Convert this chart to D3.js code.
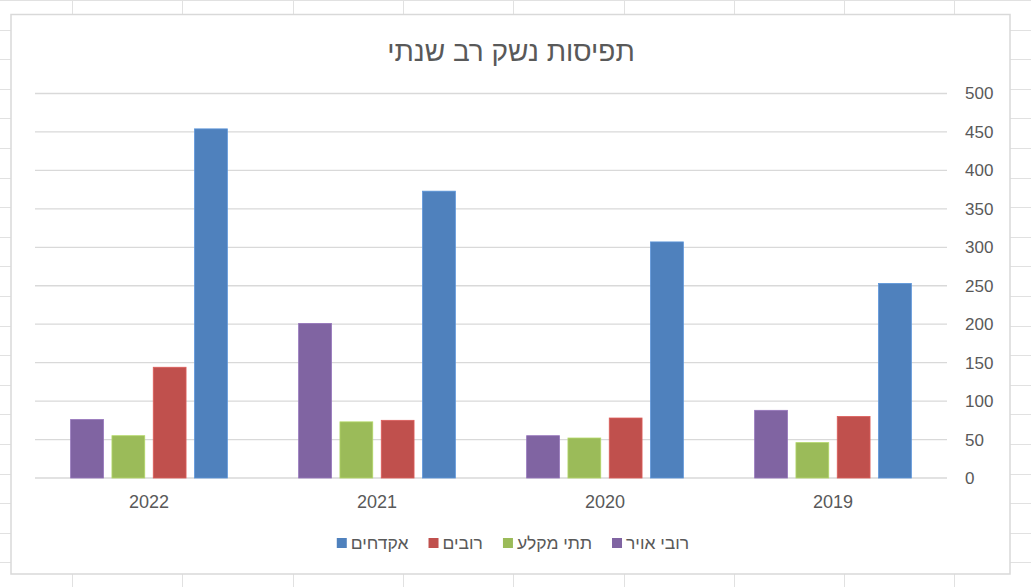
<!DOCTYPE html>
<html>
<head>
<meta charset="utf-8">
<script src="https://cdn.jsdelivr.net/npm/d3@7"></script>
<style>
  html, body { margin: 0; padding: 0; background: #ffffff; }
  svg { display: block; }
  .lbl { font-family: "Liberation Sans", Arial, sans-serif; fill: #595959; }
</style>
</head>
<body>
<div id="chart"></div>
<script>
// data
var years = ["2019", "2020", "2021", "2022"];
var seriesNames = ["אקדחים", "רובים", "תתי מקלע", "רובי אויר"];
var pistols = [253, 307, 373, 454];
var rifles = [80, 78, 75, 144];
var submachineGuns = [46, 52, 73, 55];
var airRifles = [88, 55, 201, 76];
var seriesColors = ["#4F81BD", "#C0504D", "#9BBB59", "#8064A2"];
var yTicks = [0, 50, 100, 150, 200, 250, 300, 350, 400, 450, 500];
var chartTitle = "תפיסות נשק רב שנתי";

var width = 1031, height = 587;
var seriesValues = [pistols, rifles, submachineGuns, airRifles];

var svg = d3.select("#chart").append("svg")
    .attr("width", width)
    .attr("height", height);

// spreadsheet cells behind the chart
var sheet = svg.append("g").attr("stroke", "#e1e1e1").attr("stroke-width", 1);
d3.range(0, 10).forEach(function (i) {
    var x = Math.round(72 + i * 110.3) + 0.5;
    sheet.append("line").attr("x1", x).attr("x2", x).attr("y1", 0).attr("y2", height);
});
d3.range(0, 21).forEach(function (i) {
    var y = Math.round(i * 29.6) + 0.5;
    sheet.append("line").attr("x1", 0).attr("x2", width).attr("y1", y).attr("y2", y);
});

// chart area
svg.append("rect")
    .attr("x", 11).attr("y", 14.5)
    .attr("width", 999).attr("height", 559.5)
    .attr("fill", "#ffffff")
    .attr("stroke", "#d9d9d9")
    .attr("stroke-width", 1.5);

var plot = { left: 35, right: 947, top: 93.5, bottom: 478 };

var x0 = d3.scaleBand()
    .domain(years)
    .range([plot.right, plot.left]);

var x1 = d3.scaleBand()
    .domain(seriesNames)
    .range([x0.bandwidth(), 0])
    .paddingInner(0.206)
    .paddingOuter(0.863);

var y = d3.scaleLinear()
    .domain([0, 500])
    .range([plot.bottom, plot.top]);

// gridlines
svg.append("g").selectAll("line")
    .data(yTicks)
    .enter().append("line")
    .attr("x1", plot.left).attr("x2", plot.right)
    .attr("y1", function (d) { return y(d); })
    .attr("y2", function (d) { return y(d); })
    .attr("stroke", "#d9d9d9")
    .attr("stroke-width", 1.3);

// y axis on the right
var yAxis = d3.axisRight(y).tickValues(yTicks).tickSize(0).tickPadding(0);
var yAxisG = svg.append("g")
    .attr("transform", "translate(965,0)")
    .call(yAxis);
yAxisG.select(".domain").remove();
yAxisG.selectAll("text")
    .attr("class", "lbl")
    .attr("font-size", 17)
    .attr("text-anchor", "start");

// x axis labels
var xAxis = d3.axisBottom(x0).tickSize(0).tickPadding(0);
var xAxisG = svg.append("g")
    .attr("transform", "translate(0,495)")
    .call(xAxis);
xAxisG.select(".domain").remove();
xAxisG.selectAll("text")
    .attr("class", "lbl")
    .attr("font-size", 18);

// bars
var groups = svg.append("g").selectAll("g")
    .data(years)
    .enter().append("g")
    .attr("transform", function (d) { return "translate(" + x0(d) + ",0)"; });

groups.selectAll("rect")
    .data(function (d, i) {
        return seriesNames.map(function (s, k) {
            return { name: s, value: seriesValues[k][i], color: seriesColors[k] };
        });
    })
    .enter().append("rect")
    .attr("x", function (d) { return x1(d.name); })
    .attr("y", function (d) { return y(d.value); })
    .attr("width", x1.bandwidth())
    .attr("height", function (d) { return y(0) - y(d.value); })
    .attr("fill", function (d) { return d.color; })
    .attr("stroke", function (d) { return d3.color(d.color).brighter(0.4); })
    .attr("stroke-width", 0.8);

// title
svg.append("text")
    .attr("class", "lbl")
    .attr("x", 511).attr("y", 61)
    .attr("text-anchor", "middle")
    .attr("font-size", 28)
    .text(chartTitle);

// legend
var legend = svg.append("g");
var items = legend.selectAll("g")
    .data(seriesNames)
    .enter().append("g");
items.append("rect")
    .attr("width", 10).attr("height", 10)
    .attr("y", -5)
    .attr("fill", function (d, i) { return seriesColors[i]; });
items.append("text")
    .attr("class", "lbl")
    .attr("font-size", 17.5)
    .attr("x", 14)
    .attr("dy", "0.35em")
    .text(function (d) { return d; });

var cursor = 0;
items.each(function () {
    var w = this.querySelector("text").getComputedTextLength();
    d3.select(this).attr("transform", "translate(" + cursor + ",0)");
    cursor += 14 + w + 20;
});
var legendWidth = cursor - 20;
legend.attr("transform", "translate(" + (513 - legendWidth / 2) + ",543)");
</script>
</body>
</html>
